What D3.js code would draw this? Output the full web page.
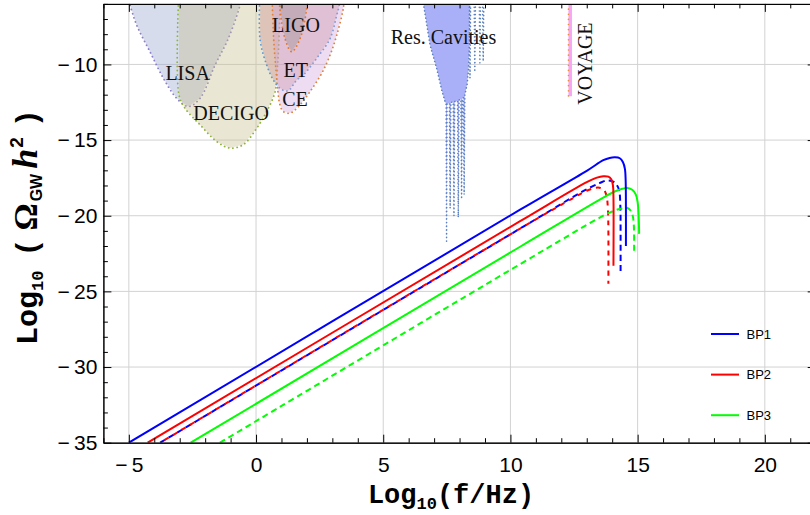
<!DOCTYPE html>
<html><head><meta charset="utf-8">
<script src="https://cdn.jsdelivr.net/npm/d3@7"></script>
<style>
body{margin:0;background:#fff;}
svg{display:block;}
</style></head>
<body><svg id="c" width="810" height="515"></svg>
<script>
// ---------- data ----------
const xTicks = [-5, 0, 5, 10, 15, 20];
const yTicks = [-35, -30, -25, -20, -15, -10];
const seriesNames = ["BP1", "BP2", "BP3"];

// [log10 f, log10 Omega h^2]
const bp1Solid = [[-5.0,-35.0],[10.38,-19.6],[13.0,-17.03],[13.65,-16.33],[13.9,-16.18],[14.11,-16.14],[14.3,-16.2],[14.42,-16.45],[14.5,-16.9],[14.53,-17.7],[14.54,-19.5],[14.54,-22.0]];
const bp2Solid = [[-4.26,-35.0],[10.38,-20.36],[13.0,-17.78],[13.4,-17.48],[13.65,-17.39],[13.85,-17.42],[13.97,-17.6],[14.03,-18.0],[14.05,-18.8],[14.05,-23.3]];
const bp3Solid = [[-2.57,-35.0],[10.38,-22.05],[13.65,-18.8],[14.1,-18.4],[14.4,-18.22],[14.6,-18.17],[14.8,-18.3],[14.93,-18.6],[15.0,-19.1],[15.04,-20.0],[15.06,-21.2]];
const bp1Dash  = [[-3.77,-35.0],[10.38,-20.85],[13.0,-18.25],[13.5,-17.85],[13.78,-17.67],[14.0,-17.72],[14.15,-17.9],[14.27,-18.3],[14.32,-19.3],[14.33,-21.0],[14.33,-23.9]];
const bp2Dash  = [[-3.77,-35.0],[10.38,-20.85],[12.5,-18.8],[13.0,-18.35],[13.3,-18.17],[13.5,-18.15],[13.68,-18.3],[13.78,-18.7],[13.83,-19.5],[13.85,-21.0],[13.85,-24.5]];
const bp3Dash  = [[-1.42,-35.0],[10.38,-23.2],[13.65,-20.0],[14.1,-19.65],[14.4,-19.5],[14.57,-19.47],[14.72,-19.65],[14.8,-19.95],[14.85,-20.6],[14.86,-22.6]];

// detector sensitivity outlines
const lisa   = [[-5.1,-5.0],[-4.98,-5.9],[-4.69,-7.41],[-4.17,-9.16],[-3.64,-10.92],[-3.12,-12.24],[-2.66,-12.78],[-2.2,-12.24],[-1.61,-10.04],[-1.09,-8.29],[-0.63,-6.09],[-0.5,-5.0]];
const decigo = [[-3.03,-5.0],[-3.03,-12.01],[-2.79,-12.9],[-2.2,-13.99],[-1.55,-15.09],[-1.02,-15.53],[-0.5,-15.3],[0.03,-14.21],[0.42,-13.11],[0.75,-11.8],[0.85,-10.0],[0.91,-8.0],[0.95,-6.0],[0.97,-5.0]];
const et     = [[0.16,-5.0],[0.16,-8.39],[0.42,-10.04],[0.68,-11.03],[0.94,-11.58],[1.25,-11.75],[1.6,-11.03],[1.86,-10.7],[2.38,-9.6],[2.91,-8.29],[3.17,-6.75],[3.27,-6.1],[3.32,-5.0]];
const ce     = [[0.62,-5.0],[0.66,-7.0],[0.7,-8.5],[0.78,-10.3],[0.86,-11.8],[0.94,-12.67],[1.07,-13.11],[1.34,-13.22],[1.73,-12.67],[2.12,-11.8],[2.58,-10.59],[2.91,-9.38],[3.17,-8.07],[3.43,-6.3],[3.5,-5.0]];
const ligo   = [[0.9,-5.0],[0.94,-6.32],[1.14,-8.3],[1.4,-9.16],[1.73,-8.29],[1.99,-6.32],[2.02,-5.0]];
const resCav = [[6.5,-5.0],[6.58,-6.0],[6.84,-8.72],[7.1,-10.26],[7.3,-11.7],[7.43,-12.45],[7.47,-12.6],[7.49,-21.8],[7.51,-12.6],[7.6,-12.55],[7.63,-19.5],[7.66,-12.5],[7.75,-12.5],[7.78,-20.0],[7.81,-12.45],[7.92,-12.4],[7.95,-20.1],[7.98,-12.35],[8.05,-12.3],[8.08,-18.9],[8.11,-12.25],[8.15,-12.2],[8.18,-18.6],[8.21,-12.0],[8.3,-11.3],[8.35,-10.4],[8.38,-9.0],[8.4,-6.0],[8.42,-5.0]];
const resCavSpikes = [[8.41,-10.9],[8.6,-10.5],[8.8,-9.9],[8.93,-9.8]];
const voyage = [[12.28,-5.0],[12.28,-12.1],[12.42,-12.1],[12.42,-5.0]];

// ---------- layout ----------
const svg = d3.select("#c");
const x = d3.scaleLinear().domain([-6, 22]).range([103.4, 815.7]);
const y = d3.scaleLinear().domain([-35, -6]).range([442.7, 3.9]);
const X0 = x.range()[0], X1 = x.range()[1], Y0 = y.range()[0], Y1 = y.range()[1];

svg.append("defs").append("clipPath").attr("id","clip")
  .append("rect").attr("x",X0).attr("y",Y1).attr("width",X1-X0).attr("height",Y0-Y1);

// grid
const grid = svg.append("g").attr("stroke","#d2d2d2").attr("stroke-width",1);
xTicks.forEach(t => grid.append("line").attr("x1",x(t)).attr("x2",x(t)).attr("y1",Y1).attr("y2",Y0));
yTicks.forEach(t => grid.append("line").attr("y1",y(t)).attr("y2",y(t)).attr("x1",X0).attr("x2",X1));

const plot = svg.append("g").attr("clip-path","url(#clip)");
const line = d3.line().x(d=>x(d[0])).y(d=>y(d[1]));
const curve = d3.line().x(d=>x(d[0])).y(d=>y(d[1])).curve(d3.curveCatmullRom.alpha(0.5));

function region(pts, fill, op, dot){
  plot.append("path").attr("d", line(pts)+"Z").attr("fill",fill).attr("fill-opacity",op).attr("stroke","none");
  plot.append("path").attr("d", curve(pts)).attr("fill","none").attr("stroke",dot)
    .attr("stroke-width",1.8).attr("stroke-linecap","round").attr("stroke-dasharray","0.1,4.2");
}
region(lisa,   "#95a4cc", 0.38, "#8a7fcb");
region(decigo, "#c9bd8e", 0.38, "#8fb43c");
region(et,     "#c98c8c", 0.38, "#5b9bd5");
region(ce,     "#cf9fdb", 0.35, "#e0823a");
region(ligo,   "#8f8a88", 0.35, "#e07a30");

// resonant cavities
plot.append("path").attr("d", line(resCav)+"Z").attr("fill","#aab0f8").attr("stroke","none");
plot.append("path").attr("d", line(resCav)).attr("fill","none").attr("stroke","#5a80bd")
  .attr("stroke-width",1.6).attr("stroke-linecap","round").attr("stroke-dasharray","0.1,3.6");
resCavSpikes.forEach(s=>{
  const pts=[[s[0]-0.03,-5.0],[s[0],s[1]],[s[0]+0.03,-5.0]];
  plot.append("path").attr("d", line(pts)).attr("fill","none").attr("stroke","#5a80bd")
    .attr("stroke-width",1.6).attr("stroke-linecap","round").attr("stroke-dasharray","0.1,3.6");
});
// voyage
plot.append("path").attr("d", line(voyage)+"Z").attr("fill","#f7a6f3").attr("stroke","none");
plot.append("path").attr("d", line([voyage[0],voyage[1]])).attr("fill","none").attr("stroke","#e8913a")
  .attr("stroke-width",1.6).attr("stroke-linecap","round").attr("stroke-dasharray","0.1,5");

// detector labels
const lab = svg.append("g").attr("font-family","'Liberation Serif', 'Times New Roman', serif").attr("font-size",20).attr("fill","#111");
[["LISA",-2.69,-11.0],["DECIGO",-0.98,-13.66],["LIGO",1.57,-7.85],["ET",1.56,-10.81],["CE",1.53,-12.78],["Res. Cavities",7.37,-8.68]]
 .forEach(d=>lab.append("text").attr("x",x(d[1])).attr("y",y(d[2])).attr("text-anchor","middle").text(d[0]));
lab.append("text").attr("transform",`translate(${x(13.2)},${y(-12.66)}) rotate(-90)`).text("VOYAGE");

// BP lines
const colors = {BP1:"#0000ff", BP2:"#ff0000", BP3:"#00ff00"};
const series = [
  [bp1Dash,"BP1","6,4",0],[bp2Dash,"BP2","5,5",5],[bp3Dash,"BP3","6,4",0],
  [bp3Solid,"BP3",null,0],[bp2Solid,"BP2",null,0],[bp1Solid,"BP1",null,0]
];
series.forEach(([pts,name,dash,off])=>{
  plot.append("path").attr("d",curve(pts)).attr("fill","none").attr("stroke",colors[name])
    .attr("stroke-width",2).attr("stroke-dasharray",dash).attr("stroke-dashoffset",off);
});

// axes
const fmt = d => d<0 ? "\u2212\u2009"+Math.abs(d) : String(d);
const xMinor = d3.range(-6,23).filter(v=>!xTicks.includes(v));
const yMinor = d3.range(-35,-5).filter(v=>!yTicks.includes(v));
const axFont = "'Liberation Sans', Arial, sans-serif";
function style(g){ g.selectAll("path,line").attr("stroke","#000").attr("stroke-width",1); g.selectAll("text").attr("font-family",axFont).attr("font-size",21).attr("fill","#000"); }

svg.append("g").attr("transform",`translate(0,${Y0})`).call(d3.axisBottom(x).tickValues(xMinor).tickSize(-4.5).tickSizeOuter(0).tickFormat("")).call(style);
svg.append("g").attr("transform",`translate(0,${Y0})`).call(d3.axisBottom(x).tickValues(xTicks).tickSize(-8).tickSizeOuter(0).tickPadding(14).tickFormat(fmt)).call(style);
svg.append("g").attr("transform",`translate(0,${Y1})`).call(d3.axisTop(x).tickValues(xMinor).tickSize(-4.5).tickSizeOuter(0).tickFormat("")).call(style);
svg.append("g").attr("transform",`translate(0,${Y1})`).call(d3.axisTop(x).tickValues(xTicks).tickSize(-8).tickSizeOuter(0).tickFormat("")).call(style);
svg.append("g").attr("transform",`translate(${X0},0)`).call(d3.axisLeft(y).tickValues(yMinor).tickSize(-4.5).tickSizeOuter(0).tickFormat("")).call(style);
svg.append("g").attr("transform",`translate(${X0},0)`).call(d3.axisLeft(y).tickValues(yTicks).tickSize(-8).tickSizeOuter(0).tickPadding(6).tickFormat(fmt)).call(style);
svg.append("g").attr("transform",`translate(${X1},0)`).call(d3.axisRight(y).tickValues(yTicks).tickSize(-8).tickSizeOuter(0).tickFormat("")).call(style);

// legend
const leg = svg.append("g");
seriesNames.forEach((n,i)=>{
  const ly = 334 + i*40.6;
  leg.append("line").attr("x1",711).attr("x2",739).attr("y1",ly).attr("y2",ly).attr("stroke",colors[n]).attr("stroke-width",2);
  leg.append("text").attr("x",746.5).attr("y",ly).attr("dy","0.35em").attr("font-family",axFont).attr("font-size",13).text(n);
});

// axis titles
const mono = "'Liberation Mono', 'Courier New', monospace";
const serif = "'Liberation Serif', 'Times New Roman', serif";
const xt = svg.append("text").attr("x",451).attr("y",503).attr("text-anchor","middle")
  .attr("font-family",mono).attr("font-weight","bold").attr("font-size",27);
xt.append("tspan").text("Log");
xt.append("tspan").attr("font-size",17).attr("dy",6).text("10");
xt.append("tspan").attr("dy",-6).text("(f/Hz)");

const yt = svg.append("text").attr("transform","translate(37,345) rotate(-90)").attr("text-anchor","start")
  .attr("font-family",mono).attr("font-weight","bold").attr("font-size",30);
yt.append("tspan").text("Log");
yt.append("tspan").attr("font-size",17).attr("dy",6).text("10");
yt.append("tspan").attr("dy",-6).attr("dx",14).text("(");
yt.append("tspan").attr("font-family",serif).attr("font-size",34).attr("dx",8).text("\u03A9");
yt.append("tspan").attr("font-family",axFont).attr("font-size",16).attr("dy",5).attr("dx",2).text("GW");
yt.append("tspan").attr("font-family",serif).attr("font-style","italic").attr("font-size",36).attr("dy",-5).attr("dx",5).text("h");
yt.append("tspan").attr("font-family",axFont).attr("font-size",19).attr("dy",-14).attr("dx",1).text("2");
yt.append("tspan").attr("dy",14).attr("dx",10).text(")");
</script></body></html>
